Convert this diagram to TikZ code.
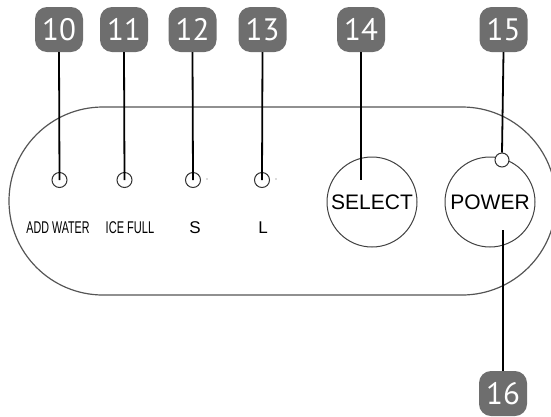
\documentclass[tikz,border=0pt]{standalone}
\usepackage{fontspec}
\setmainfont{Liberation Sans}
\newfontfamily\badgefont{PT Sans}
\definecolor{badgegray}{HTML}{6E6E6E}
\definecolor{outlinegray}{HTML}{555555}
\begin{document}
\begin{tikzpicture}[x=1pt,y=-1pt,
  badge/.style={fill=badgegray, rounded corners=12pt, minimum width=48pt, minimum height=45pt,
    inner sep=0pt, text=white, font=\badgefont\fontsize{31}{31}\selectfont},
  led/.style={circle, draw=black!80, line width=1pt, minimum size=15pt, inner sep=0pt},
  button/.style={circle, draw=black!75, line width=1pt, minimum size=90pt, inner sep=0pt,
    font=\fontsize{21}{21}\selectfont},
  leader/.style={line width=1.8pt, black},
  lbl/.style={font=\fontsize{17}{17}\selectfont, inner sep=0pt},
  dot/.style={circle, fill=black!60, minimum size=1.2pt, inner sep=0pt},
]
\useasboundingbox (0,0) rectangle (551,416);
\clip (0,0) rectangle (551,416);
% panel
\draw[outlinegray, line width=1.2pt] (103,107) -- (462,107) arc (-90:90:94) -- (103,295) arc (90:270:94) -- cycle;
% LEDs
\node[led] (led10) at (59.5,180) {};
\node[led] (led11) at (124.5,180) {};
\node[led] (led12) at (193,180) {};
\node[led] (led13) at (262,180) {};
\node[dot] (d12) at (207,179) {};
\node[dot] (d13) at (276,179) {};
% labels
\node[lbl] (t10) at (58,228) {\scalebox{0.63}[1]{ADD WATER}};
\node[lbl] (t11) at (130,228) {\scalebox{0.65}[1]{ICE FULL}};
\node[lbl] (t12) at (195,228) {S};
\node[lbl] (t13) at (263,228) {L};
% buttons
\node[button] (sel) at (372,202) {SELECT};
\node[button] (pow) at (490,202) {POWER};
\node[led, minimum size=14pt, fill=white] (pled) at (502,160) {};
\coordinate (c14) at (361,180);
\coordinate (c16) at (503,230);
% badges
\node[badge] (b10) at (59,29.5) {10};
\node[badge] (b11) at (124,29.5) {11};
\node[badge] (b12) at (192.5,29.5) {12};
\node[badge] (b13) at (262.5,29.5) {13};
\node[badge] (b14) at (361,29.5) {14};
\node[badge] (b15) at (503.5,29.5) {15};
\node[badge] (b16) at (503,393.5) {16};
% leaders
\draw[leader] (b10.south) -- (led10.center);
\draw[leader] (b11.south) -- (led11.center);
\draw[leader] (b12.south) -- (led12.center);
\draw[leader] (b13.south) -- (led13.center);
\draw[leader] (b14.south) -- (c14);
\draw[leader] (b15.south) -- (pled.north);
\draw[leader] (c16) -- (b16.north);
\end{tikzpicture}
\end{document}
